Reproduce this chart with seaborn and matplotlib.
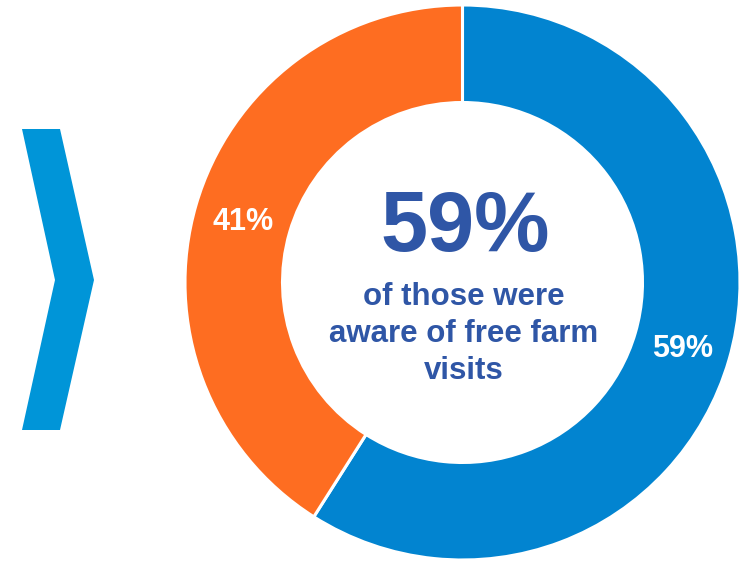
import matplotlib
matplotlib.use("Agg")
import matplotlib.pyplot as plt
from matplotlib.patches import Polygon
import seaborn as sns

# Survey share: aware vs. not aware of free farm visits
categories = ["Aware", "Not aware"]
shares = [59, 41]
headline = "59%"
subtitle = "of those were\naware of free farm\nvisits"

sns.set_style("white")
plt.rcParams["font.family"] = ["Liberation Sans", "DejaVu Sans"]

palette = ["#0284D0", "#FE6D21"]
navy = "#2F56A6"
chevron_blue = "#0095D8"

W, H = 752, 563
fig = plt.figure(figsize=(W / 100, H / 100), dpi=100)
ax = fig.add_axes([0, 0, 1, 1])

cx, cy = 462.5, H - 282.5
r_out, r_in = 277.5, 180.0

wedges, texts, autotexts = ax.pie(
    shares,
    labels=None,
    colors=palette,
    startangle=90,
    counterclock=False,
    center=(cx, cy),
    radius=r_out,
    autopct="%.0f%%",
    pctdistance=(r_out + r_in) / 2 / r_out,
    wedgeprops=dict(width=r_out - r_in, edgecolor="white", linewidth=2.2),
    textprops=dict(color="white", fontsize=22, fontweight="bold"),
    frame=True,
)
# nudge percentage labels so the digits sit on the ring's midline
for t in autotexts:
    x, y = t.get_position()
    t.set_position((x, y - 3))

ax.set_xlim(0, W)
ax.set_ylim(0, H)
ax.set_aspect("equal")
ax.axis("off")

# Center headline and caption
ax.text(cx + 3, H - 229, headline, ha="center", va="center",
        fontsize=61, fontweight="bold", color=navy)
ax.text(cx + 1, H - 334, subtitle, ha="center", va="center",
        fontsize=22.5, fontweight="bold", color=navy, linespacing=1.3)

# Chevron marker on the left
chev = [(22, 129), (60, 129), (94, 280), (60, 430), (22, 430), (55, 280)]
ax.add_patch(Polygon([(x, H - y) for x, y in chev], closed=True,
                     facecolor=chevron_blue, edgecolor="none"))

fig.savefig("out.png", dpi=100, facecolor="white")
